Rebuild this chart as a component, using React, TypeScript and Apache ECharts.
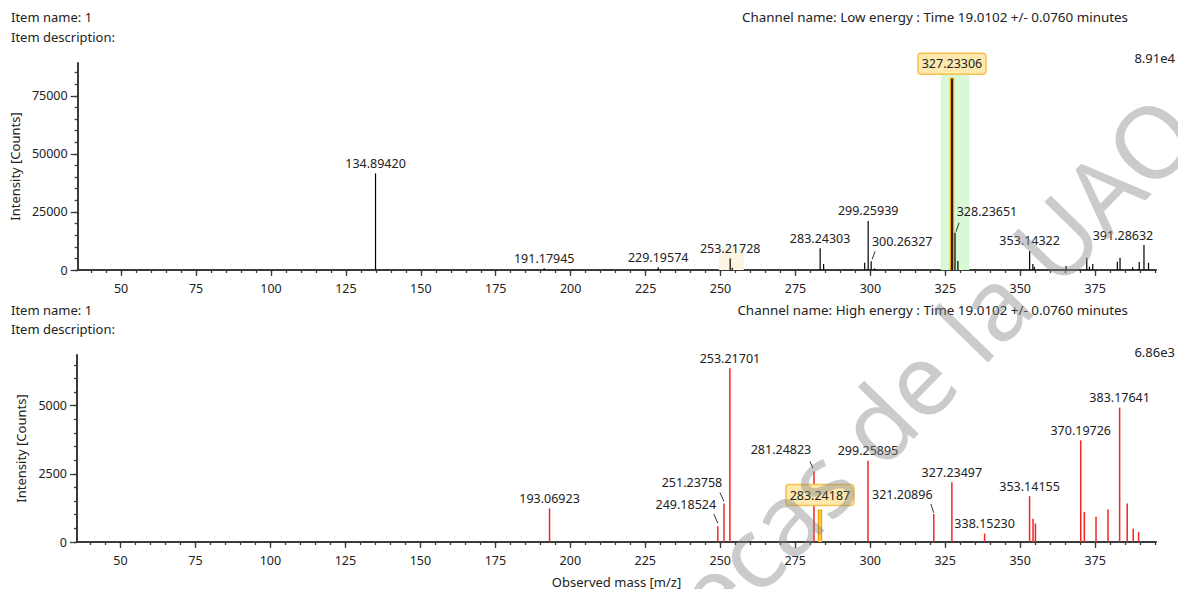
import React, { useEffect, useRef } from "react";
import * as echarts from "echarts";

const FONT = "'Noto Sans', 'Open Sans', sans-serif";
const TEXT_COLOR = "#222";
const AXIS_COLOR = "#3b3b3b";

// axis extents / ticks
const MZ_MIN = 35.5;
const MZ_MAX = 395.3;
const massTicks = [50, 75, 100, 125, 150, 175, 200, 225, 250, 275, 300, 325, 350, 375];
const massMinorTicks = [40, 45, 50, 55, 60, 65, 70, 75, 80, 85, 90, 95, 100, 105, 110, 115, 120, 125, 130, 135, 140, 145, 150, 155, 160, 165, 170, 175, 180, 185, 190, 195, 200, 205, 210, 215, 220, 225, 230, 235, 240, 245, 250, 255, 260, 265, 270, 275, 280, 285, 290, 295, 300, 305, 310, 315, 320, 325, 330, 335, 340, 345, 350, 355, 360, 365, 370, 375, 380, 385, 390, 395];
const LOW_MAX = 89100;
const lowTicks = [0, 25000, 50000, 75000];
const lowMinorTicks = [0, 5000, 10000, 15000, 20000, 25000, 30000, 35000, 40000, 45000, 50000, 55000, 60000, 65000, 70000, 75000, 80000, 85000];
const HIGH_MAX = 6860;
const highTicks = [0, 2500, 5000];
const highMinorTicks = [0, 500, 1000, 1500, 2000, 2500, 3000, 3500, 4000, 4500, 5000, 5500, 6000, 6500];

// Low energy spectrum
const lowMz = [134.8942, 191.17945, 229.19574, 253.21728, 253.9, 283.24303, 284.4, 298.1, 299.25939, 300.26327, 301.4, 327.23306, 328.23651, 329.2, 353.14322, 354.2, 354.7, 365.3, 372.2, 373.1, 374.2, 382.4, 383.3, 387.5, 389.7, 391.28632, 392.8];
const lowIntensity = [41600, 750, 1150, 5000, 1000, 9350, 2600, 3150, 21100, 3750, 700, 82750, 16050, 3850, 8200, 2600, 1400, 1700, 5300, 1400, 2600, 3600, 5300, 1150, 3450, 10750, 3150];
const lowLabels = ["134.89420", "191.17945", "229.19574", "253.21728", "", "283.24303", "", "", "299.25939", "300.26327", "", "327.23306", "328.23651", "", "353.14322", "", "", "", "", "", "", "", "", "", "", "391.28632", ""];
const lowHighlight = "327.23306";
// bands: [mzStart, mzEnd, top intensity]
const lowBands = [[249.4, 257.8, 10030], [323.5, 333.0, 84640]];
const lowBandColors = ["#fdf4e2", "#d9f8d5"];

// High energy spectrum
const highMz = [193.06923, 249.18524, 251.23758, 253.21701, 281.24823, 283.24187, 299.25895, 321.20896, 327.23497, 338.1523, 353.14155, 354.3, 355.1, 370.19726, 371.4, 375.3, 379.3, 383.17641, 385.7, 387.7, 389.5];
const highIntensity = [1230, 580, 1410, 6375, 2590, 1190, 2980, 1030, 2190, 310, 1680, 850, 680, 3730, 1100, 930, 1190, 4930, 1410, 490, 370];
const highLabels = ["193.06923", "249.18524", "251.23758", "253.21701", "281.24823", "283.24187", "299.25895", "321.20896", "327.23497", "338.15230", "353.14155", "", "", "370.19726", "", "", "", "383.17641", "", "", ""];
const highHighlight = "283.24187";

// label layout (offset of label centre from peak top, optional leader line)
const labelShift: Record<string, { dx: number; dy: number; leader?: number[] }> = {
  "300.26327": { dx: 31, dy: -20, leader: [1, -2, 4, -10] },
  "328.23651": { dx: 32, dy: -21, leader: [1, -1, 4, -10] },
  "391.28632": { dx: -21, dy: -10 },
  "327.23306": { dx: 0, dy: -14 },
  "249.18524": { dx: -32, dy: -22, leader: [-4, -12, 0, -3] },
  "251.23758": { dx: -32, dy: -21, leader: [-4, -11, 0, -2] },
  "281.24823": { dx: -33, dy: -22, leader: [-4, -10, -1, -3] },
  "283.24187": { dx: 0, dy: -14.5 },
  "321.20896": { dx: -31.5, dy: -19, leader: [-3, -10, 0, -1] },
};

const NUM_FONT = `12.5px ${FONT}`;

function stickSeries(axisIdx: number, mz: number[], inten: number[], labels: string[], color: string, width: number, highlight: string, hiInner: string) {
  return {
    type: "custom",
    xAxisIndex: axisIdx,
    yAxisIndex: axisIdx,
    z: 3,
    clip: false,
    data: mz.map((m, i) => [m, inten[i]]),
    renderItem: (params: any, api: any) => {
      const i = params.dataIndex;
      const m = api.value(0);
      const v = api.value(1);
      const base = api.coord([m, 0]);
      const top = api.coord([m, v]);
      const label = labels[i];
      const isHi = label !== "" && label === highlight;
      const children: any[] = [];
      if (isHi) {
        children.push({ type: "rect", shape: { x: top[0] - 2.2, y: top[1], width: 4.4, height: base[1] - top[1] }, style: { fill: "#f2a000" } });
        children.push({ type: "line", shape: { x1: top[0], y1: top[1] + 1, x2: top[0], y2: base[1] }, style: { stroke: hiInner, lineWidth: 1.6 } });
      } else {
        children.push({ type: "line", shape: { x1: top[0], y1: top[1], x2: base[0], y2: base[1] }, style: { stroke: color, lineWidth: width } });
      }
      if (label) {
        const s = labelShift[label] || { dx: 0, dy: -10 };
        const cx = top[0] + s.dx;
        const cy = top[1] + s.dy;
        if (isHi) {
          children.push({ type: "rect", shape: { x: cx - 34, y: cy - 10.5, width: 68, height: 21, r: 3 }, style: { fill: "#fde9ad", stroke: "#f4c24e", lineWidth: 1.5 } });
        }
        children.push({ type: "text", style: { text: label, x: cx, y: cy, align: "center", verticalAlign: "middle", fill: TEXT_COLOR, font: NUM_FONT } });
        if (s.leader) {
          const l = s.leader;
          children.push({ type: "line", shape: { x1: top[0] + l[0], y1: top[1] + l[1], x2: top[0] + l[2], y2: top[1] + l[3] }, style: { stroke: "#333", lineWidth: 1 } });
        }
      }
      return { type: "group", children };
    },
  };
}

function bandSeries(axisIdx: number, bands: number[][], colors: string[]) {
  return {
    type: "custom",
    xAxisIndex: axisIdx,
    yAxisIndex: axisIdx,
    z: 1,
    data: bands,
    renderItem: (params: any, api: any) => {
      const p0 = api.coord([api.value(0), api.value(2)]);
      const p1 = api.coord([api.value(1), 0]);
      return { type: "rect", shape: { x: p0[0], y: p0[1], width: p1[0] - p0[0], height: p1[1] - p0[1] }, style: { fill: colors[params.dataIndex] } };
    },
  };
}

const tickLine = { color: AXIS_COLOR, width: 1.3 };
const labelStyle = { color: TEXT_COLOR, fontSize: 12.5, fontFamily: FONT };
const nameStyle = { color: TEXT_COLOR, fontSize: 13, fontFamily: FONT };
const plain = (v: number) => String(v);

function xMajor(grid: number, name: string) {
  return {
    type: "value", gridIndex: grid, position: "bottom", min: MZ_MIN, max: MZ_MAX,
    axisLine: { show: true, onZero: false, lineStyle: { color: AXIS_COLOR, width: 2 } },
    axisTick: { show: true, customValues: massTicks, length: 6, lineStyle: tickLine },
    axisLabel: { show: true, customValues: massTicks, margin: 12, formatter: plain, ...labelStyle },
    splitLine: { show: false },
    name, nameLocation: "middle", nameGap: 33, nameTextStyle: nameStyle,
  };
}
function xMinor(grid: number) {
  return {
    type: "value", gridIndex: grid, position: "bottom", min: MZ_MIN, max: MZ_MAX,
    axisLine: { show: false, onZero: false },
    axisTick: { show: true, customValues: massMinorTicks, length: 3, lineStyle: tickLine },
    axisLabel: { show: false },
    splitLine: { show: false },
  };
}
function yMajor(grid: number, max: number, ticks: number[]) {
  return {
    type: "value", gridIndex: grid, position: "left", min: 0, max,
    axisLine: { show: true, onZero: false, lineStyle: { color: AXIS_COLOR, width: 2 } },
    axisTick: { show: true, customValues: ticks, length: 7, lineStyle: tickLine },
    axisLabel: { show: true, customValues: ticks, margin: 10, formatter: plain, ...labelStyle },
    splitLine: { show: false },
    name: "Intensity [Counts]", nameLocation: "middle", nameGap: 49, nameTextStyle: nameStyle,
  };
}
function yMinor(grid: number, max: number, ticks: number[]) {
  return {
    type: "value", gridIndex: grid, position: "left", min: 0, max,
    axisLine: { show: false, onZero: false },
    axisTick: { show: true, customValues: ticks, length: 3, lineStyle: tickLine },
    axisLabel: { show: false },
    splitLine: { show: false },
  };
}

function headerText(text: string, x: number, y: number, align: string, size = 13) {
  return { type: "text", x, y, z: 10, style: { text, align, verticalAlign: "middle", fill: TEXT_COLOR, font: `${size}px ${FONT}` } };
}

export default function App() {
  const ref = useRef<HTMLDivElement>(null);
  useEffect(() => {
    document.body.style.margin = "0";
    if (!ref.current) return;
    const chart = echarts.init(ref.current, undefined, { renderer: "svg" });
    chart.setOption({
      animation: false,
      backgroundColor: "#ffffff",
      grid: [
        { left: 77, top: 63, width: 1079, height: 207 },
        { left: 77, top: 355, width: 1079, height: 187.5 },
      ],
      xAxis: [xMajor(0, ""), xMinor(0), xMajor(1, "Observed mass [m/z]"), xMinor(1)],
      yAxis: [yMajor(0, LOW_MAX, lowTicks), yMinor(0, LOW_MAX, lowMinorTicks), yMajor(1, HIGH_MAX, highTicks), yMinor(1, HIGH_MAX, highMinorTicks)],
      series: [
        bandSeries(0, lowBands, lowBandColors),
        stickSeries(0, lowMz, lowIntensity, lowLabels, "#000000", 1.2, lowHighlight, "#000000"),
        stickSeries(2, highMz, highIntensity, highLabels, "#f42424", 1.5, highHighlight, "#ffdc4a"),
      ],
      graphic: {
        elements: [
          headerText("Item name: 1", 11, 17, "left"),
          headerText("Item description:", 11, 37, "left"),
          headerText("Channel name: Low energy : Time 19.0102 +/- 0.0760 minutes", 1128, 17, "right", 13.4),
          headerText("8.91e4", 1175, 58, "right"),
          headerText("Item name: 1", 11, 310, "left"),
          headerText("Item description:", 11, 329, "left"),
          headerText("Channel name: High energy : Time 19.0102 +/- 0.0760 minutes", 1128, 310, "right", 13.4),
          headerText("6.86e3", 1175, 352, "right"),
          {
            type: "text", x: 1177, y: 112, rotation: 0.80, z: 100, silent: true,
            style: { text: "Bibliotecas de la UAQ", align: "right", verticalAlign: "middle", fill: "rgba(130,130,130,0.42)", font: `100px ${FONT}` },
          },
        ],
      },
    });
    return () => chart.dispose();
  }, []);
  return <div ref={ref} style={{ width: 1178, height: 589 }} />;
}
